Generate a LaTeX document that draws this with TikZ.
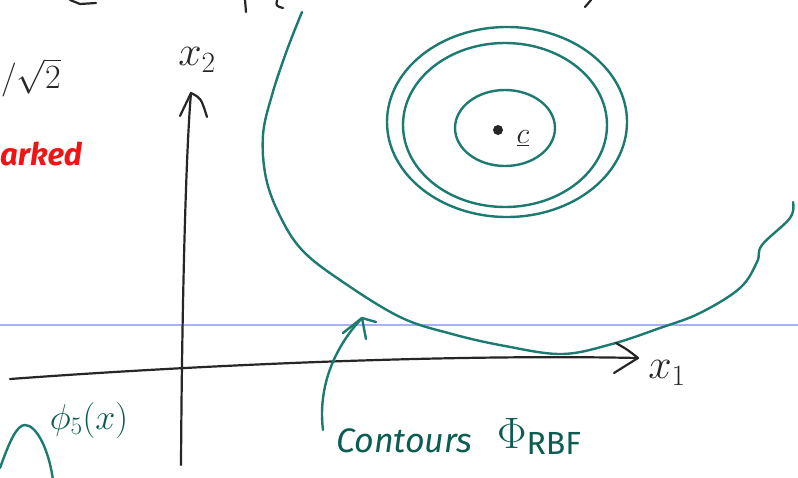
\RequirePackage{fix-cm}
\documentclass[tikz,border=0pt]{standalone}
\usepackage{fontspec}
\newfontfamily\hand{Fira Sans}
\definecolor{tealone}{RGB}{28,122,112}
\definecolor{tealdark}{RGB}{12,92,82}
\definecolor{ink}{RGB}{38,38,38}
\definecolor{ruleblue}{RGB}{170,176,255}
\definecolor{redink}{RGB}{240,20,20}
\tikzset{
  tealline/.style={draw=tealone, line width=2.4pt, line cap=round, line join=round},
  axisline/.style={draw=ink, line width=2.2pt, line cap=round, line join=round},
  ruled/.style={draw=ruleblue, line width=1.2pt},
  tealtext/.style={text=tealdark, inner sep=0pt},
  inktext/.style={text=ink, inner sep=0pt},
}
\begin{document}
\begin{tikzpicture}[x=1pt,y=-1pt]
\useasboundingbox (0,0) rectangle (798,477);
\clip (0,0) rectangle (798,477);
\fill[white] (0,0) rectangle (798,477);

% ruled line
\coordinate (rl) at (0,325);
\coordinate (rr) at (798,325);
\draw[ruled] (rl) -- (rr);

% top fragments
\draw[axisline] (70,0) -- (80,4) -- (96,3);
\draw[axisline] (245,0) -- (246,12);
\draw[axisline] (277,0) .. controls (276,6) .. (283,8);
\draw[axisline] (591,0) -- (585,7);

% big contour
\draw[tealline] plot[smooth, tension=0.6] coordinates {(302,12) (287,50) (272,95) (263,135) (266,178) (280,216) (302,250) (340,280) (400,317) (452,334) (505,346) (562,354) (612,344) (660,328) (700,313) (740,288) (757,262) (762,245) (790,218) (793,202)};

% concentric contours
\draw[tealline] (507,122) ellipse [x radius=120, y radius=95];
\draw[tealline] (505,125) ellipse [x radius=102, y radius=82];
\draw[tealline] (505,128) ellipse [x radius=50, y radius=38];
\fill[ink] (498,130) circle (5);
\node[inktext] (c) at (523,138) {\fontsize{30}{30}\selectfont$\underline{c}$};

% axes
\coordinate (h0) at (10,379);
\coordinate (hend) at (638,358);
\draw[axisline] (h0) .. controls (200,365) and (450,354) .. (hend);
\draw[axisline] (616,343) .. controls (628,350) .. (hend) .. controls (626,366) .. (614,373);
\coordinate (v0) at (181,465);
\coordinate (vend) at (191,93);
\draw[axisline] (v0) .. controls (182,300) and (186,150) .. (vend);
\draw[axisline] (180,116) .. controls (185,104) .. (vend) .. controls (201,98) .. (207,117);
\node[inktext] (xtwo) at (197,60) {\fontsize{42}{42}\selectfont$x_2$};
\node[inktext] (xone) at (667,373) {\fontsize{42}{42}\selectfont$x_1$};

% left texts
\node[inktext, anchor=west] (sqrt) at (1,78) {\fontsize{34}{34}\selectfont$/\sqrt{2}$};
\node[text=redink, inner sep=0pt, anchor=west] (marked) at (0,154) {\fontsize{31}{31}\selectfont\hand\bfseries\itshape arked};

% bump and phi_5
\draw[tealline] (0,468) .. controls (10,440) and (17,425) .. (25,425) .. controls (35,425) and (48,445) .. (53,480);
\node[tealtext] (phifive) at (89,420) {\fontsize{36}{36}\selectfont$\phi_5(x)$};

% pointer arrow
\coordinate (ptail) at (323,430);
\coordinate (ptip) at (362,318);
\draw[tealline] (ptail) .. controls (318,390) and (332,350) .. (ptip);
\draw[tealline] (343,333) -- (ptip) -- (376,322);
\draw[tealline] (ptip) -- (366,339);

% label
\node[tealtext, anchor=base west] (contours) at (336,452) {\fontsize{34}{34}\selectfont\hand\itshape Contours};
\node[tealtext, anchor=base west] (phirbf) at (497,448) {\fontsize{44}{44}\selectfont$\Phi_{\hbox{\fontsize{32}{32}\selectfont\hand RBF}}$};
\end{tikzpicture}
\end{document}
